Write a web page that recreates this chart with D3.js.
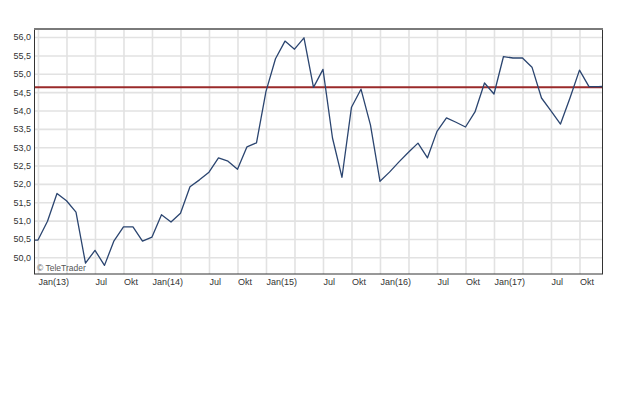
<!DOCTYPE html>
<html>
<head>
<meta charset="utf-8">
<script src="https://cdn.jsdelivr.net/npm/d3@7"></script>
<style>
  html, body { margin: 0; padding: 0; background: #fff; }
  svg { display: block; }
  text { font-family: Arial, "Liberation Sans", sans-serif; }
</style>
</head>
<body>
<svg id="chart" width="620" height="413"></svg>
<script>
// ---- data ----
const months = [
  "2012-12",
  "2013-01","2013-02","2013-03","2013-04","2013-05","2013-06","2013-07","2013-08","2013-09","2013-10","2013-11","2013-12",
  "2014-01","2014-02","2014-03","2014-04","2014-05","2014-06","2014-07","2014-08","2014-09","2014-10","2014-11","2014-12",
  "2015-01","2015-02","2015-03","2015-04","2015-05","2015-06","2015-07","2015-08","2015-09","2015-10","2015-11","2015-12",
  "2016-01","2016-02","2016-03","2016-04","2016-05","2016-06","2016-07","2016-08","2016-09","2016-10","2016-11","2016-12",
  "2017-01","2017-02","2017-03","2017-04","2017-05","2017-06","2017-07","2017-08","2017-09","2017-10","2017-11","2017-12",
  "2018-01"
];
const values = [
  50.47,
  50.47, 50.98, 51.74, 51.54, 51.23, 49.84, 50.19, 49.78, 50.45, 50.83, 50.83, 50.44,
  50.55, 51.16, 50.96, 51.20, 51.92, 52.11, 52.32, 52.71, 52.62, 52.40, 53.01, 53.12,
  54.52, 55.41, 55.89, 55.67, 55.98, 54.63, 55.12, 53.25, 52.18, 54.09, 54.58, 53.60,
  52.07, 52.32, 52.60, 52.86, 53.11, 52.71, 53.43, 53.80, 53.68, 53.55, 53.96, 54.75,
  54.45, 55.47, 55.43, 55.43, 55.18, 54.34, 53.99, 53.63, 54.34, 55.10, 54.65, 54.65,
  54.66
];
const referenceValue = 54.63;
const gridMonths = [
  "2013-01","2013-04","2013-07","2013-10",
  "2014-01","2014-04","2014-07","2014-10",
  "2015-01","2015-04","2015-07","2015-10",
  "2016-01","2016-04","2016-07","2016-10",
  "2017-01","2017-04","2017-07","2017-10"
];
const labelMonths = [
  "2013-01","2013-07","2013-10",
  "2014-01","2014-07","2014-10",
  "2015-01","2015-07","2015-10",
  "2016-01","2016-07","2016-10",
  "2017-01","2017-07","2017-10"
];
const labelTexts = [
  "Jan(13)","Jul","Okt",
  "Jan(14)","Jul","Okt",
  "Jan(15)","Jul","Okt",
  "Jan(16)","Jul","Okt",
  "Jan(17)","Jul","Okt"
];
const yTicks = [50.0, 50.5, 51.0, 51.5, 52.0, 52.5, 53.0, 53.5, 54.0, 54.5, 55.0, 55.5, 56.0];
const yDomain = [49.545, 56.22];

// ---- layout ----
const L = 34, R = 602, T = 29, B = 274;
const mIndex = s => { const [yy, mm] = s.split("-").map(Number); return yy * 12 + (mm - 1); };
const base = mIndex("2013-01");

const x = d3.scaleLinear().domain([base - 0.42, base + 59.37]).range([L, R]);
const y = d3.scaleLinear().domain(yDomain).range([B, T]);

const svg = d3.select("#chart");
svg.append("rect").attr("width", 620).attr("height", 413).attr("fill", "#fff");

svg.append("defs").append("clipPath").attr("id", "clip")
  .append("rect").attr("x", L).attr("y", T).attr("width", R - L).attr("height", B - T);

// grid
const gx = svg.append("g").attr("transform", `translate(0,${B})`)
  .call(d3.axisBottom(x).tickValues(gridMonths.map(mIndex)).tickSize(-(B - T)).tickFormat(""));
gx.select(".domain").remove();
gx.selectAll("line").attr("stroke", "#e2e2e2").attr("stroke-width", 1.6);

const gy = svg.append("g").attr("transform", `translate(${L},0)`)
  .call(d3.axisLeft(y).tickValues(yTicks).tickSize(-(R - L)).tickFormat(""));
gy.select(".domain").remove();
gy.selectAll("line").attr("stroke", "#e2e2e2").attr("stroke-width", 1.6);

// y labels
const ay = svg.append("g").attr("transform", `translate(${L},0)`)
  .call(d3.axisLeft(y).tickValues(yTicks).tickSize(0).tickPadding(3)
    .tickFormat(d => d.toFixed(1).replace(".", ",")));
ay.select(".domain").remove();
ay.selectAll("text").attr("font-size", 9).attr("fill", "#333").attr("font-family", "Arial, 'Liberation Sans', sans-serif");

// x labels
const ax = svg.append("g").attr("transform", `translate(0,${B})`)
  .call(d3.axisBottom(x).tickValues(labelMonths.map(mIndex)).tickSize(0).tickPadding(5)
    .tickFormat((d, i) => labelTexts[i]));
ax.select(".domain").remove();
ax.selectAll("text").attr("font-size", 9).attr("fill", "#333")
  .attr("text-anchor", "start").attr("font-family", "Arial, 'Liberation Sans', sans-serif");

// reference line
svg.append("line")
  .attr("x1", L).attr("x2", R)
  .attr("y1", y(referenceValue)).attr("y2", y(referenceValue))
  .attr("stroke", "#9a2a2a").attr("stroke-width", 2);

// data line
const line = d3.line().x((d, i) => x(mIndex(months[i]))).y(d => y(d));
svg.append("path").datum(values)
  .attr("clip-path", "url(#clip)")
  .attr("fill", "none").attr("stroke", "#2b4570").attr("stroke-width", 1.3)
  .attr("stroke-linejoin", "round")
  .attr("d", line);

// watermark
svg.append("text").attr("x", L + 3).attr("y", B - 3)
  .attr("font-size", 8.5).attr("fill", "#555").text("\u00A9 TeleTrader");

// frame
svg.append("rect").attr("x", L + 0.5).attr("y", T).attr("width", R - L).attr("height", B - T)
  .attr("fill", "none").attr("stroke", "#333").attr("stroke-width", 1);
svg.append("line").attr("x1", L).attr("x2", R + 1).attr("y1", T).attr("y2", T)
  .attr("stroke", "#7a7a7a").attr("stroke-width", 2);
</script>
</body>
</html>
